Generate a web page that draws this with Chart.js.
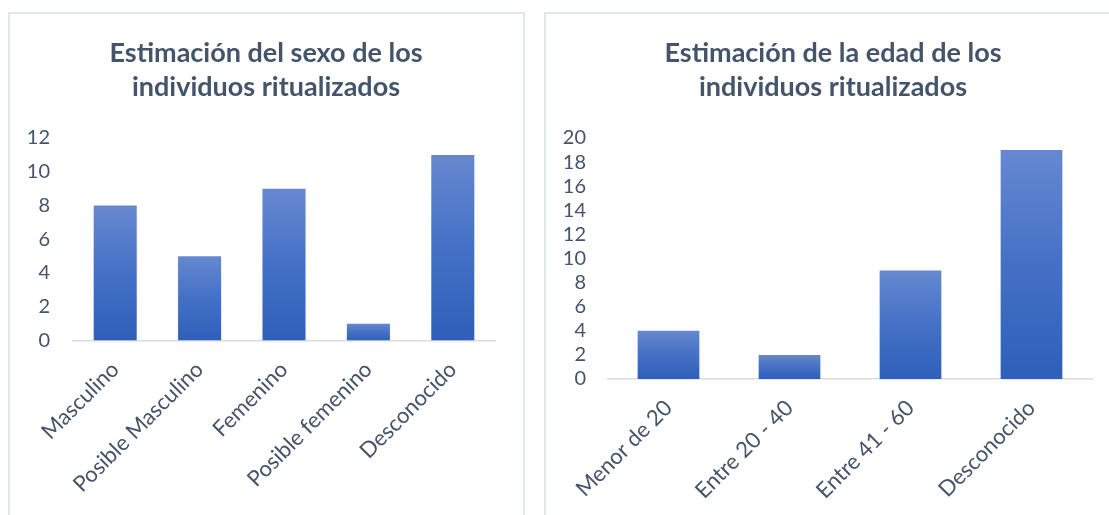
<!DOCTYPE html>
<html>
<head>
<meta charset="utf-8">
<script src="https://cdn.jsdelivr.net/npm/chart.js@4"></script>
<style>
  html, body { margin: 0; padding: 0; background: #fff; overflow: hidden; width: 1109px; height: 515px; }
  .box { position: absolute; border: 2px solid #E2E5E9; box-sizing: border-box; }
  .title { position: absolute; text-align: center; color: #44546A; font: bold 27px Lato, Calibri, sans-serif; line-height: 34.5px; white-space: nowrap; }
  canvas { position: absolute; }
</style>
</head>
<body>
<div class="box" style="left:8px; top:12px; width:517px; height:540px;"></div>
<div class="box" style="left:544px; top:12px; width:600px; height:540px;"></div>
<canvas id="sexChart" width="514" height="501" style="left:9px; top:14px;"></canvas>
<canvas id="ageChart" width="564" height="501" style="left:545px; top:14px;"></canvas>
<div class="title" id="sexTitle" style="left:9px; top:34.5px; width:514px;"></div>
<div class="title" id="ageTitle" style="left:545px; top:34.5px; width:576px;"></div>
<script>
// data
const sexLabels = ['Masculino', 'Posible Masculino', 'Femenino', 'Posible femenino', 'Desconocido'];
const sexValues = [8, 5, 9, 1, 11];
const sexTitle = ['Estimación del sexo de los', 'individuos ritualizados'];

const ageLabels = ['Menor de 20', 'Entre 20 - 40', 'Entre 41 - 60', 'Desconocido'];
const ageValues = [4, 2, 9, 19];
const ageTitle = ['Estimación de la edad de los', 'individuos ritualizados'];

const textColor = '#44546A';
Chart.defaults.font.family = 'Lato, Calibri, sans-serif';
Chart.defaults.color = textColor;

// titles as page text above each chart
function setTitle(id, lines) {
    const el = document.getElementById(id);
    lines.forEach(function(line, i) {
        if (i > 0) el.appendChild(document.createElement('br'));
        el.appendChild(document.createTextNode(line));
    });
}
setTitle('sexTitle', sexTitle);
setTitle('ageTitle', ageTitle);

// gradient per bar, lighter on top
function barGradient(ctx) {
    const chart = ctx.chart;
    if (!chart.chartArea || ctx.parsed == null) return '#4472C4';
    const y = chart.scales.y;
    const top = y.getPixelForValue(ctx.parsed.y);
    const bottom = y.getPixelForValue(0);
    const g = chart.ctx.createLinearGradient(0, top, 0, bottom);
    g.addColorStop(0, '#6688D0');
    g.addColorStop(0.5, '#4471C6');
    g.addColorStop(1, '#2E5FB9');
    return g;
}

function makeChart(id, labels, values, yMax, padRight, yWidth, yPad, xHeight) {
    const ctx = document.getElementById(id).getContext('2d');
    return new Chart(ctx, {
        type: 'bar',
        data: {
            labels: labels,
            datasets: [{
                data: values,
                backgroundColor: barGradient,
                barPercentage: 0.51,
                categoryPercentage: 1
            }]
        },
        options: {
            responsive: false,
            animation: false,
            layout: { padding: { left: 0, right: padRight, top: 124, bottom: 0 } },
            plugins: {
                legend: { display: false },
                tooltip: { enabled: false },
                title: { display: false }
            },
            scales: {
                x: {
                    grid: { display: false, drawTicks: false },
                    border: { display: true, color: '#D9DCE1', width: 1.5 },
                    ticks: { font: { size: 22 }, color: textColor, minRotation: 45, maxRotation: 45, autoSkip: false, padding: 16 },
                    afterFit: function(scale) { scale.height = xHeight; }
                },
                y: {
                    min: 0,
                    max: yMax,
                    grid: { display: false, drawTicks: false },
                    border: { display: false },
                    ticks: { stepSize: 2, autoSkip: false, font: { size: 20 }, color: textColor, padding: yPad },
                    afterFit: function(scale) { scale.width = yWidth; }
                }
            }
        }
    });
}

makeChart('sexChart', sexLabels, sexValues, 12, 28, 64, 23, 174.5);
makeChart('ageChart', ageLabels, ageValues, 20, 17, 63, 22, 136);
</script>
</body>
</html>
